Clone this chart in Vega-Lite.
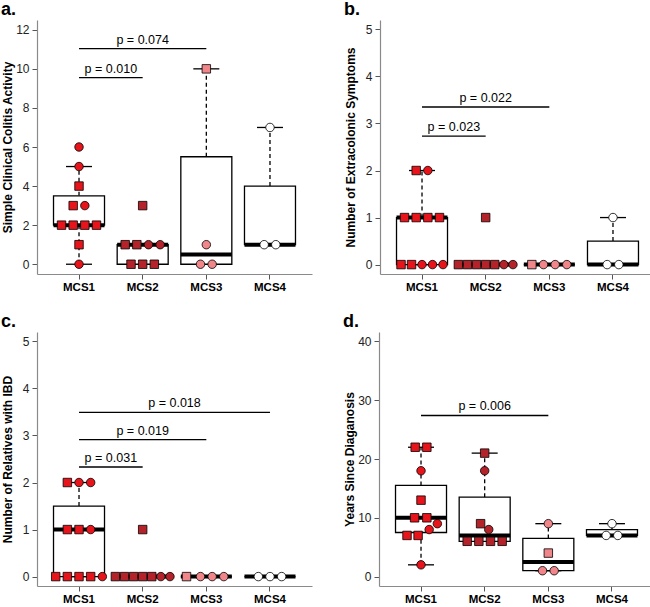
{
  "$schema": "https://vega.github.io/schema/vega-lite/v6.json",
  "padding": {"left": 1, "top": 1, "right": 0, "bottom": 0},
  "datasets": {
    "points": [
      {"panel":"a","group":"MCS1","value":6,"kind":"A","slot":0},
      {"panel":"a","group":"MCS1","value":5,"kind":"A","slot":0},
      {"panel":"a","group":"MCS1","value":4,"kind":"B","slot":0},
      {"panel":"a","group":"MCS1","value":3,"kind":"B","slot":-0.5},
      {"panel":"a","group":"MCS1","value":3,"kind":"A","slot":0.5},
      {"panel":"a","group":"MCS1","value":2,"kind":"B","slot":-1.5},
      {"panel":"a","group":"MCS1","value":2,"kind":"B","slot":-0.5},
      {"panel":"a","group":"MCS1","value":2,"kind":"B","slot":0.5},
      {"panel":"a","group":"MCS1","value":2,"kind":"B","slot":1.5},
      {"panel":"a","group":"MCS1","value":1,"kind":"B","slot":0},
      {"panel":"a","group":"MCS1","value":0,"kind":"A","slot":0},
      {"panel":"a","group":"MCS2","value":3,"kind":"B","slot":0},
      {"panel":"a","group":"MCS2","value":1,"kind":"B","slot":-1.5},
      {"panel":"a","group":"MCS2","value":1,"kind":"B","slot":-0.5},
      {"panel":"a","group":"MCS2","value":1,"kind":"A","slot":0.5},
      {"panel":"a","group":"MCS2","value":1,"kind":"A","slot":1.5},
      {"panel":"a","group":"MCS2","value":0,"kind":"B","slot":-1},
      {"panel":"a","group":"MCS2","value":0,"kind":"B","slot":0},
      {"panel":"a","group":"MCS2","value":0,"kind":"B","slot":1},
      {"panel":"a","group":"MCS3","value":10,"kind":"B","slot":0},
      {"panel":"a","group":"MCS3","value":1,"kind":"A","slot":0},
      {"panel":"a","group":"MCS3","value":0,"kind":"A","slot":-0.5},
      {"panel":"a","group":"MCS3","value":0,"kind":"A","slot":0.5},
      {"panel":"a","group":"MCS4","value":7,"kind":"A","slot":0},
      {"panel":"a","group":"MCS4","value":1,"kind":"A","slot":-0.5},
      {"panel":"a","group":"MCS4","value":1,"kind":"A","slot":0.5},

      {"panel":"b","group":"MCS1","value":2,"kind":"B","slot":-0.5},
      {"panel":"b","group":"MCS1","value":2,"kind":"A","slot":0.5},
      {"panel":"b","group":"MCS1","value":1,"kind":"B","slot":-1.5},
      {"panel":"b","group":"MCS1","value":1,"kind":"B","slot":-0.5},
      {"panel":"b","group":"MCS1","value":1,"kind":"B","slot":0.5},
      {"panel":"b","group":"MCS1","value":1,"kind":"B","slot":1.5},
      {"panel":"b","group":"MCS1","value":0,"kind":"B","slot":-1.8},
      {"panel":"b","group":"MCS1","value":0,"kind":"B","slot":-0.9},
      {"panel":"b","group":"MCS1","value":0,"kind":"A","slot":0},
      {"panel":"b","group":"MCS1","value":0,"kind":"A","slot":0.9},
      {"panel":"b","group":"MCS1","value":0,"kind":"A","slot":1.8},
      {"panel":"b","group":"MCS2","value":1,"kind":"B","slot":0},
      {"panel":"b","group":"MCS2","value":0,"kind":"B","slot":-2.34},
      {"panel":"b","group":"MCS2","value":0,"kind":"B","slot":-1.56},
      {"panel":"b","group":"MCS2","value":0,"kind":"B","slot":-0.78},
      {"panel":"b","group":"MCS2","value":0,"kind":"B","slot":0},
      {"panel":"b","group":"MCS2","value":0,"kind":"B","slot":0.78},
      {"panel":"b","group":"MCS2","value":0,"kind":"A","slot":1.56},
      {"panel":"b","group":"MCS2","value":0,"kind":"A","slot":2.34},
      {"panel":"b","group":"MCS3","value":0,"kind":"B","slot":-1.5},
      {"panel":"b","group":"MCS3","value":0,"kind":"A","slot":-0.5},
      {"panel":"b","group":"MCS3","value":0,"kind":"A","slot":0.5},
      {"panel":"b","group":"MCS3","value":0,"kind":"A","slot":1.5},
      {"panel":"b","group":"MCS4","value":1,"kind":"A","slot":0},
      {"panel":"b","group":"MCS4","value":0,"kind":"A","slot":-0.5},
      {"panel":"b","group":"MCS4","value":0,"kind":"A","slot":0.5},

      {"panel":"c","group":"MCS1","value":2,"kind":"B","slot":-1},
      {"panel":"c","group":"MCS1","value":2,"kind":"A","slot":0},
      {"panel":"c","group":"MCS1","value":2,"kind":"A","slot":1},
      {"panel":"c","group":"MCS1","value":1,"kind":"B","slot":-1},
      {"panel":"c","group":"MCS1","value":1,"kind":"B","slot":0},
      {"panel":"c","group":"MCS1","value":1,"kind":"A","slot":1},
      {"panel":"c","group":"MCS1","value":0,"kind":"B","slot":-2},
      {"panel":"c","group":"MCS1","value":0,"kind":"B","slot":-1},
      {"panel":"c","group":"MCS1","value":0,"kind":"B","slot":0},
      {"panel":"c","group":"MCS1","value":0,"kind":"B","slot":1},
      {"panel":"c","group":"MCS1","value":0,"kind":"A","slot":2},
      {"panel":"c","group":"MCS2","value":1,"kind":"B","slot":0},
      {"panel":"c","group":"MCS2","value":0,"kind":"B","slot":-2.34},
      {"panel":"c","group":"MCS2","value":0,"kind":"B","slot":-1.56},
      {"panel":"c","group":"MCS2","value":0,"kind":"B","slot":-0.78},
      {"panel":"c","group":"MCS2","value":0,"kind":"B","slot":0},
      {"panel":"c","group":"MCS2","value":0,"kind":"B","slot":0.78},
      {"panel":"c","group":"MCS2","value":0,"kind":"A","slot":1.56},
      {"panel":"c","group":"MCS2","value":0,"kind":"A","slot":2.34},
      {"panel":"c","group":"MCS3","value":0,"kind":"B","slot":-1.7},
      {"panel":"c","group":"MCS3","value":0,"kind":"A","slot":-0.5},
      {"panel":"c","group":"MCS3","value":0,"kind":"A","slot":0.5},
      {"panel":"c","group":"MCS3","value":0,"kind":"A","slot":1.5},
      {"panel":"c","group":"MCS4","value":0,"kind":"A","slot":-1},
      {"panel":"c","group":"MCS4","value":0,"kind":"A","slot":0},
      {"panel":"c","group":"MCS4","value":0,"kind":"A","slot":1},

      {"panel":"d","group":"MCS1","value":22,"kind":"B","slot":-0.5},
      {"panel":"d","group":"MCS1","value":22,"kind":"B","slot":0.5},
      {"panel":"d","group":"MCS1","value":18,"kind":"A","slot":0},
      {"panel":"d","group":"MCS1","value":13,"kind":"B","slot":0},
      {"panel":"d","group":"MCS1","value":10,"kind":"B","slot":-0.55},
      {"panel":"d","group":"MCS1","value":10,"kind":"B","slot":0.5},
      {"panel":"d","group":"MCS1","value":9,"kind":"A","slot":1.4},
      {"panel":"d","group":"MCS1","value":8,"kind":"A","slot":0.7},
      {"panel":"d","group":"MCS1","value":7,"kind":"B","slot":-1.2},
      {"panel":"d","group":"MCS1","value":7,"kind":"B","slot":-0.25},
      {"panel":"d","group":"MCS1","value":2,"kind":"A","slot":0},
      {"panel":"d","group":"MCS2","value":21,"kind":"B","slot":0},
      {"panel":"d","group":"MCS2","value":18,"kind":"A","slot":0},
      {"panel":"d","group":"MCS2","value":9,"kind":"B","slot":-0.35},
      {"panel":"d","group":"MCS2","value":8,"kind":"A","slot":0.35},
      {"panel":"d","group":"MCS2","value":6,"kind":"B","slot":-1.5},
      {"panel":"d","group":"MCS2","value":6,"kind":"B","slot":-0.5},
      {"panel":"d","group":"MCS2","value":6,"kind":"B","slot":0.5},
      {"panel":"d","group":"MCS2","value":6,"kind":"B","slot":1.5},
      {"panel":"d","group":"MCS3","value":9,"kind":"A","slot":0},
      {"panel":"d","group":"MCS3","value":4,"kind":"B","slot":0},
      {"panel":"d","group":"MCS3","value":1,"kind":"A","slot":-0.5},
      {"panel":"d","group":"MCS3","value":1,"kind":"A","slot":0.5},
      {"panel":"d","group":"MCS4","value":9,"kind":"A","slot":0},
      {"panel":"d","group":"MCS4","value":7,"kind":"A","slot":-0.5},
      {"panel":"d","group":"MCS4","value":7,"kind":"A","slot":0.5}
    ],
    "boxes": [
      {"panel":"a","group":"MCS1","lo":0,"q1":2,"med":2,"q3":3.5,"hi":5},
      {"panel":"a","group":"MCS2","lo":0,"q1":0,"med":1,"q3":1,"hi":1},
      {"panel":"a","group":"MCS3","lo":0,"q1":0,"med":0.5,"q3":5.5,"hi":10},
      {"panel":"a","group":"MCS4","lo":1,"q1":1,"med":1,"q3":4,"hi":7},
      {"panel":"b","group":"MCS1","lo":0,"q1":0,"med":1,"q3":1,"hi":2},
      {"panel":"b","group":"MCS2","lo":0,"q1":0,"med":0,"q3":0,"hi":0},
      {"panel":"b","group":"MCS3","lo":0,"q1":0,"med":0,"q3":0,"hi":0},
      {"panel":"b","group":"MCS4","lo":0,"q1":0,"med":0,"q3":0.5,"hi":1},
      {"panel":"c","group":"MCS1","lo":0,"q1":0,"med":1,"q3":1.5,"hi":2},
      {"panel":"c","group":"MCS2","lo":0,"q1":0,"med":0,"q3":0,"hi":0},
      {"panel":"c","group":"MCS3","lo":0,"q1":0,"med":0,"q3":0,"hi":0},
      {"panel":"c","group":"MCS4","lo":0,"q1":0,"med":0,"q3":0,"hi":0},
      {"panel":"d","group":"MCS1","lo":2,"q1":7.5,"med":10,"q3":15.5,"hi":22},
      {"panel":"d","group":"MCS2","lo":6,"q1":6,"med":7,"q3":13.5,"hi":21},
      {"panel":"d","group":"MCS3","lo":1,"q1":1,"med":2.5,"q3":6.5,"hi":9},
      {"panel":"d","group":"MCS4","lo":7,"q1":7,"med":7,"q3":8,"hi":9}
    ],
    "sigs": [
      {"panel":"a","from":"MCS1","to":"MCS2","y":9.55,"label":"p = 0.010"},
      {"panel":"a","from":"MCS1","to":"MCS3","y":11.03,"label":"p = 0.074"},
      {"panel":"b","from":"MCS1","to":"MCS2","y":2.73,"label":"p = 0.023"},
      {"panel":"b","from":"MCS1","to":"MCS3","y":3.35,"label":"p = 0.022"},
      {"panel":"c","from":"MCS1","to":"MCS2","y":2.33,"label":"p = 0.031"},
      {"panel":"c","from":"MCS1","to":"MCS3","y":2.91,"label":"p = 0.019"},
      {"panel":"c","from":"MCS1","to":"MCS4","y":3.49,"label":"p = 0.018"},
      {"panel":"d","from":"MCS1","to":"MCS3","y":27.4,"label":"p = 0.006"}
    ]
  },
  "vconcat": [
    {
      "hconcat": [
        {
          "title": {"text": "a."},
          "width": 275, "height": 254,
          "layer": [
            {
              "data": {"name": "boxes"},
              "transform": [{"filter": "datum.panel === 'a'"}],
              "encoding": {"x": {"field": "group", "type": "nominal", "scale": {"domain": ["MCS1","MCS2","MCS3","MCS4"], "paddingInner": 0, "paddingOuter": 0.16}, "axis": {"title": null}}},
              "layer": [
                {"mark": {"type": "rule", "strokeDash": [4,3], "strokeWidth": 1.3, "color": "black"}, "encoding": {"y": {"field": "q3", "type": "quantitative", "scale": {"domain": [-0.5, 12.5], "nice": false, "zero": false}, "axis": {"title": "Simple Clinical Colitis Activity", "values": [0,2,4,6,8,10,12]}}, "y2": {"field": "hi"}}},
                {"mark": {"type": "rule", "strokeDash": [4,3], "strokeWidth": 1.3, "color": "black"}, "encoding": {"y": {"field": "lo", "type": "quantitative"}, "y2": {"field": "q1"}}},
                {"mark": {"type": "tick", "size": 26, "thickness": 1.3, "color": "black", "opacity": 1}, "encoding": {"y": {"field": "hi", "type": "quantitative"}}},
                {"mark": {"type": "tick", "size": 26, "thickness": 1.3, "color": "black", "opacity": 1}, "encoding": {"y": {"field": "lo", "type": "quantitative"}}},
                {"mark": {"type": "bar", "width": 51, "fill": "white", "stroke": "black", "strokeWidth": 1.3}, "encoding": {"y": {"field": "q1", "type": "quantitative"}, "y2": {"field": "q3"}}},
                {"mark": {"type": "tick", "size": 51, "thickness": 4, "color": "black", "opacity": 1}, "encoding": {"y": {"field": "med", "type": "quantitative"}}}
              ]
            },
            {
              "data": {"name": "points"},
              "transform": [{"filter": "datum.panel === 'a'"}],
              "mark": {"type": "point", "filled": true, "size": 72, "stroke": "black", "strokeWidth": 0.8, "opacity": 1},
              "encoding": {
                "x": {"field": "group", "type": "nominal", "scale": {"domain": ["MCS1","MCS2","MCS3","MCS4"], "paddingInner": 0, "paddingOuter": 0.16}, "axis": {"title": null}},
                "xOffset": {"field": "slot", "type": "quantitative", "scale": {"domain": [-2.73, 2.73]}},
                "y": {"field": "value", "type": "quantitative"},
                "shape": {"field": "kind", "type": "nominal", "scale": {"domain": ["A","B"], "range": ["circle","square"]}, "legend": null},
                "fill": {"field": "group", "type": "nominal", "scale": {"domain": ["MCS1","MCS2","MCS3","MCS4"], "range": ["#e8141b","#b5232a","#f0868a","#ffffff"]}, "legend": null}
              }
            },
            {
              "data": {"name": "sigs"},
              "transform": [{"filter": "datum.panel === 'a'"}],
              "layer": [
                {"mark": {"type": "rule", "strokeWidth": 1.3, "color": "black"}, "encoding": {"x": {"field": "from", "type": "nominal", "scale": {"domain": ["MCS1","MCS2","MCS3","MCS4"], "paddingInner": 0, "paddingOuter": 0.16}, "axis": {"title": null}}, "x2": {"field": "to"}, "y": {"field": "y", "type": "quantitative"}}},
                {"transform": [{"filter": "datum.to === 'MCS2'"}], "mark": {"type": "text", "baseline": "bottom", "dy": -2, "fontSize": 12.5, "color": "black"}, "encoding": {"x": {"field": "from", "type": "nominal", "bandPosition": 1}, "y": {"field": "y", "type": "quantitative"}, "text": {"field": "label"}}},
                {"transform": [{"filter": "datum.to === 'MCS3'"}], "mark": {"type": "text", "baseline": "bottom", "dy": -2, "fontSize": 12.5, "color": "black"}, "encoding": {"x": {"field": "from", "type": "nominal", "bandPosition": 1.5}, "y": {"field": "y", "type": "quantitative"}, "text": {"field": "label"}}}
              ]
            }
          ]
        },
        {
          "title": {"text": "b."},
          "width": 275, "height": 254,
          "layer": [
            {
              "data": {"name": "boxes"},
              "transform": [{"filter": "datum.panel === 'b'"}],
              "encoding": {"x": {"field": "group", "type": "nominal", "scale": {"domain": ["MCS1","MCS2","MCS3","MCS4"], "paddingInner": 0, "paddingOuter": 0.16}, "axis": {"title": null}}},
              "layer": [
                {"mark": {"type": "rule", "strokeDash": [4,3], "strokeWidth": 1.3, "color": "black"}, "encoding": {"y": {"field": "q3", "type": "quantitative", "scale": {"domain": [-0.2, 5.2], "nice": false, "zero": false}, "axis": {"title": "Number of Extracolonic Symptoms", "values": [0,1,2,3,4,5]}}, "y2": {"field": "hi"}}},
                {"mark": {"type": "rule", "strokeDash": [4,3], "strokeWidth": 1.3, "color": "black"}, "encoding": {"y": {"field": "lo", "type": "quantitative"}, "y2": {"field": "q1"}}},
                {"mark": {"type": "tick", "size": 26, "thickness": 1.3, "color": "black", "opacity": 1}, "encoding": {"y": {"field": "hi", "type": "quantitative"}}},
                {"mark": {"type": "tick", "size": 26, "thickness": 1.3, "color": "black", "opacity": 1}, "encoding": {"y": {"field": "lo", "type": "quantitative"}}},
                {"mark": {"type": "bar", "width": 51, "fill": "white", "stroke": "black", "strokeWidth": 1.3}, "encoding": {"y": {"field": "q1", "type": "quantitative"}, "y2": {"field": "q3"}}},
                {"mark": {"type": "tick", "size": 51, "thickness": 4, "color": "black", "opacity": 1}, "encoding": {"y": {"field": "med", "type": "quantitative"}}}
              ]
            },
            {
              "data": {"name": "points"},
              "transform": [{"filter": "datum.panel === 'b'"}],
              "mark": {"type": "point", "filled": true, "size": 72, "stroke": "black", "strokeWidth": 0.8, "opacity": 1},
              "encoding": {
                "x": {"field": "group", "type": "nominal", "scale": {"domain": ["MCS1","MCS2","MCS3","MCS4"], "paddingInner": 0, "paddingOuter": 0.16}, "axis": {"title": null}},
                "xOffset": {"field": "slot", "type": "quantitative", "scale": {"domain": [-2.73, 2.73]}},
                "y": {"field": "value", "type": "quantitative"},
                "shape": {"field": "kind", "type": "nominal", "scale": {"domain": ["A","B"], "range": ["circle","square"]}, "legend": null},
                "fill": {"field": "group", "type": "nominal", "scale": {"domain": ["MCS1","MCS2","MCS3","MCS4"], "range": ["#e8141b","#b5232a","#f0868a","#ffffff"]}, "legend": null}
              }
            },
            {
              "data": {"name": "sigs"},
              "transform": [{"filter": "datum.panel === 'b'"}],
              "layer": [
                {"mark": {"type": "rule", "strokeWidth": 1.3, "color": "black"}, "encoding": {"x": {"field": "from", "type": "nominal", "scale": {"domain": ["MCS1","MCS2","MCS3","MCS4"], "paddingInner": 0, "paddingOuter": 0.16}, "axis": {"title": null}}, "x2": {"field": "to"}, "y": {"field": "y", "type": "quantitative"}}},
                {"transform": [{"filter": "datum.to === 'MCS2'"}], "mark": {"type": "text", "baseline": "bottom", "dy": -2, "fontSize": 12.5, "color": "black"}, "encoding": {"x": {"field": "from", "type": "nominal", "bandPosition": 1}, "y": {"field": "y", "type": "quantitative"}, "text": {"field": "label"}}},
                {"transform": [{"filter": "datum.to === 'MCS3'"}], "mark": {"type": "text", "baseline": "bottom", "dy": -2, "fontSize": 12.5, "color": "black"}, "encoding": {"x": {"field": "from", "type": "nominal", "bandPosition": 1.5}, "y": {"field": "y", "type": "quantitative"}, "text": {"field": "label"}}}
              ]
            }
          ]
        }
      ],
      "spacing": 31
    },
    {
      "hconcat": [
        {
          "title": {"text": "c."},
          "width": 275, "height": 254,
          "layer": [
            {
              "data": {"name": "boxes"},
              "transform": [{"filter": "datum.panel === 'c'"}],
              "encoding": {"x": {"field": "group", "type": "nominal", "scale": {"domain": ["MCS1","MCS2","MCS3","MCS4"], "paddingInner": 0, "paddingOuter": 0.16}, "axis": {"title": null}}},
              "layer": [
                {"mark": {"type": "rule", "strokeDash": [4,3], "strokeWidth": 1.3, "color": "black"}, "encoding": {"y": {"field": "q3", "type": "quantitative", "scale": {"domain": [-0.2, 5.2], "nice": false, "zero": false}, "axis": {"title": "Number of Relatives with IBD", "values": [0,1,2,3,4,5]}}, "y2": {"field": "hi"}}},
                {"mark": {"type": "rule", "strokeDash": [4,3], "strokeWidth": 1.3, "color": "black"}, "encoding": {"y": {"field": "lo", "type": "quantitative"}, "y2": {"field": "q1"}}},
                {"mark": {"type": "tick", "size": 26, "thickness": 1.3, "color": "black", "opacity": 1}, "encoding": {"y": {"field": "hi", "type": "quantitative"}}},
                {"mark": {"type": "tick", "size": 26, "thickness": 1.3, "color": "black", "opacity": 1}, "encoding": {"y": {"field": "lo", "type": "quantitative"}}},
                {"mark": {"type": "bar", "width": 51, "fill": "white", "stroke": "black", "strokeWidth": 1.3}, "encoding": {"y": {"field": "q1", "type": "quantitative"}, "y2": {"field": "q3"}}},
                {"mark": {"type": "tick", "size": 51, "thickness": 4, "color": "black", "opacity": 1}, "encoding": {"y": {"field": "med", "type": "quantitative"}}}
              ]
            },
            {
              "data": {"name": "points"},
              "transform": [{"filter": "datum.panel === 'c'"}],
              "mark": {"type": "point", "filled": true, "size": 72, "stroke": "black", "strokeWidth": 0.8, "opacity": 1},
              "encoding": {
                "x": {"field": "group", "type": "nominal", "scale": {"domain": ["MCS1","MCS2","MCS3","MCS4"], "paddingInner": 0, "paddingOuter": 0.16}, "axis": {"title": null}},
                "xOffset": {"field": "slot", "type": "quantitative", "scale": {"domain": [-2.73, 2.73]}},
                "y": {"field": "value", "type": "quantitative"},
                "shape": {"field": "kind", "type": "nominal", "scale": {"domain": ["A","B"], "range": ["circle","square"]}, "legend": null},
                "fill": {"field": "group", "type": "nominal", "scale": {"domain": ["MCS1","MCS2","MCS3","MCS4"], "range": ["#e8141b","#b5232a","#f0868a","#ffffff"]}, "legend": null}
              }
            },
            {
              "data": {"name": "sigs"},
              "transform": [{"filter": "datum.panel === 'c'"}],
              "layer": [
                {"mark": {"type": "rule", "strokeWidth": 1.3, "color": "black"}, "encoding": {"x": {"field": "from", "type": "nominal", "scale": {"domain": ["MCS1","MCS2","MCS3","MCS4"], "paddingInner": 0, "paddingOuter": 0.16}, "axis": {"title": null}}, "x2": {"field": "to"}, "y": {"field": "y", "type": "quantitative"}}},
                {"transform": [{"filter": "datum.to === 'MCS2'"}], "mark": {"type": "text", "baseline": "bottom", "dy": -2, "fontSize": 12.5, "color": "black"}, "encoding": {"x": {"field": "from", "type": "nominal", "bandPosition": 1}, "y": {"field": "y", "type": "quantitative"}, "text": {"field": "label"}}},
                {"transform": [{"filter": "datum.to === 'MCS3'"}], "mark": {"type": "text", "baseline": "bottom", "dy": -2, "fontSize": 12.5, "color": "black"}, "encoding": {"x": {"field": "from", "type": "nominal", "bandPosition": 1.5}, "y": {"field": "y", "type": "quantitative"}, "text": {"field": "label"}}},
                {"transform": [{"filter": "datum.to === 'MCS4'"}], "mark": {"type": "text", "baseline": "bottom", "dy": -2, "fontSize": 12.5, "color": "black"}, "encoding": {"x": {"field": "from", "type": "nominal", "bandPosition": 2}, "y": {"field": "y", "type": "quantitative"}, "text": {"field": "label"}}}
              ]
            }
          ]
        },
        {
          "title": {"text": "d."},
          "width": 275, "height": 254,
          "layer": [
            {
              "data": {"name": "boxes"},
              "transform": [{"filter": "datum.panel === 'd'"}],
              "encoding": {"x": {"field": "group", "type": "nominal", "scale": {"domain": ["MCS1","MCS2","MCS3","MCS4"], "paddingInner": 0, "paddingOuter": 0.16}, "axis": {"title": null}}},
              "layer": [
                {"mark": {"type": "rule", "strokeDash": [4,3], "strokeWidth": 1.3, "color": "black"}, "encoding": {"y": {"field": "q3", "type": "quantitative", "scale": {"domain": [-1.6, 41.6], "nice": false, "zero": false}, "axis": {"title": "Years Since Diaganosis", "values": [0,10,20,30,40]}}, "y2": {"field": "hi"}}},
                {"mark": {"type": "rule", "strokeDash": [4,3], "strokeWidth": 1.3, "color": "black"}, "encoding": {"y": {"field": "lo", "type": "quantitative"}, "y2": {"field": "q1"}}},
                {"mark": {"type": "tick", "size": 26, "thickness": 1.3, "color": "black", "opacity": 1}, "encoding": {"y": {"field": "hi", "type": "quantitative"}}},
                {"mark": {"type": "tick", "size": 26, "thickness": 1.3, "color": "black", "opacity": 1}, "encoding": {"y": {"field": "lo", "type": "quantitative"}}},
                {"mark": {"type": "bar", "width": 51, "fill": "white", "stroke": "black", "strokeWidth": 1.3}, "encoding": {"y": {"field": "q1", "type": "quantitative"}, "y2": {"field": "q3"}}},
                {"mark": {"type": "tick", "size": 51, "thickness": 4, "color": "black", "opacity": 1}, "encoding": {"y": {"field": "med", "type": "quantitative"}}}
              ]
            },
            {
              "data": {"name": "points"},
              "transform": [{"filter": "datum.panel === 'd'"}],
              "mark": {"type": "point", "filled": true, "size": 72, "stroke": "black", "strokeWidth": 0.8, "opacity": 1},
              "encoding": {
                "x": {"field": "group", "type": "nominal", "scale": {"domain": ["MCS1","MCS2","MCS3","MCS4"], "paddingInner": 0, "paddingOuter": 0.16}, "axis": {"title": null}},
                "xOffset": {"field": "slot", "type": "quantitative", "scale": {"domain": [-2.73, 2.73]}},
                "y": {"field": "value", "type": "quantitative"},
                "shape": {"field": "kind", "type": "nominal", "scale": {"domain": ["A","B"], "range": ["circle","square"]}, "legend": null},
                "fill": {"field": "group", "type": "nominal", "scale": {"domain": ["MCS1","MCS2","MCS3","MCS4"], "range": ["#e8141b","#b5232a","#f0868a","#ffffff"]}, "legend": null}
              }
            },
            {
              "data": {"name": "sigs"},
              "transform": [{"filter": "datum.panel === 'd'"}],
              "layer": [
                {"mark": {"type": "rule", "strokeWidth": 1.3, "color": "black"}, "encoding": {"x": {"field": "from", "type": "nominal", "scale": {"domain": ["MCS1","MCS2","MCS3","MCS4"], "paddingInner": 0, "paddingOuter": 0.16}, "axis": {"title": null}}, "x2": {"field": "to"}, "y": {"field": "y", "type": "quantitative"}}},
                {"transform": [{"filter": "datum.to === 'MCS3'"}], "mark": {"type": "text", "baseline": "bottom", "dy": -2, "fontSize": 12.5, "color": "black"}, "encoding": {"x": {"field": "from", "type": "nominal", "bandPosition": 1.5}, "y": {"field": "y", "type": "quantitative"}, "text": {"field": "label"}}}
              ]
            }
          ]
        }
      ],
      "spacing": 31
    }
  ],
  "spacing": 20,
  "config": {
    "font": "Liberation Sans",
    "view": {"stroke": null},
    "title": {"fontSize": 18, "fontWeight": "bold", "anchor": "start", "offset": 1, "color": "black"},
    "axis": {"grid": false, "domainColor": "#8a8a8a", "domainWidth": 1.2, "tickColor": "#555", "tickSize": 5, "labelColor": "#222"},
    "axisX": {"labelFontWeight": "bold", "labelFontSize": 11.5, "labelColor": "black", "labelPadding": 2, "labelAngle": 0},
    "axisY": {"labelFontSize": 12, "labelPadding": 3, "titleFontSize": 12, "titleFontWeight": "bold", "titleColor": "black", "titleX": -26, "titleY": 127, "titleBaseline": "alphabetic"}
  }
}
